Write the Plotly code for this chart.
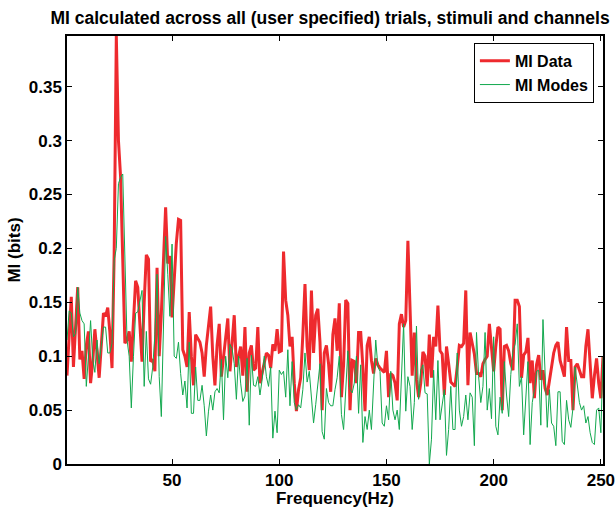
import plotly.graph_objects as go

# MI Data (red, thick) at frequencies 1..251 Hz
mi_data = [
    0.082, 0.12, 0.155, 0.09, 0.13, 0.164, 0.097, 0.105, 0.079, 0.11,
    0.123, 0.075, 0.095, 0.125, 0.103, 0.08, 0.11, 0.14, 0.137, 0.145,
    0.122, 0.089, 0.195, 0.397, 0.30, 0.266, 0.19, 0.112, 0.115, 0.123,
    0.095, 0.13, 0.17, 0.164, 0.127, 0.095, 0.15, 0.194, 0.19, 0.095,
    0.097, 0.086, 0.182, 0.1, 0.14, 0.19, 0.238, 0.186, 0.193, 0.136,
    0.17, 0.205, 0.227, 0.226, 0.106, 0.1, 0.09, 0.141, 0.1, 0.073,
    0.12, 0.116, 0.113, 0.103, 0.081, 0.11, 0.13, 0.146, 0.1, 0.073,
    0.11, 0.13, 0.081, 0.1, 0.12, 0.135, 0.086, 0.11, 0.138, 0.09,
    0.1, 0.109, 0.082, 0.127, 0.067, 0.103, 0.11, 0.087, 0.089, 0.127,
    0.075, 0.084, 0.095, 0.103, 0.101, 0.089, 0.111, 0.105, 0.125, 0.104,
    0.105, 0.197, 0.152, 0.138, 0.109, 0.118, 0.075, 0.049, 0.069, 0.08,
    0.12, 0.167, 0.109, 0.087, 0.161, 0.103, 0.138, 0.144, 0.113, 0.05,
    0.103, 0.11, 0.093, 0.067, 0.12, 0.135, 0.105, 0.149, 0.062, 0.092,
    0.152, 0.149, 0.05, 0.096, 0.095, 0.075, 0.122, 0.122, 0.09, 0.049,
    0.11, 0.118, 0.096, 0.084, 0.098, 0.092, 0.089, 0.087, 0.085, 0.105,
    0.062, 0.084, 0.082, 0.075, 0.059, 0.13, 0.139, 0.127, 0.133, 0.207,
    0.138, 0.082, 0.122, 0.078, 0.062, 0.075, 0.104, 0.1, 0.072, 0.12,
    0.08, 0.118, 0.109, 0.147, 0.105, 0.102, 0.064, 0.109, 0.093, 0.076,
    0.074, 0.072, 0.09, 0.11, 0.109, 0.112, 0.161, 0.073, 0.122, 0.11,
    0.102, 0.084, 0.084, 0.081, 0.093, 0.097, 0.1, 0.13, 0.11, 0.086,
    0.109, 0.127, 0.125, 0.05, 0.109, 0.11, 0.105, 0.093, 0.087, 0.152,
    0.152, 0.146, 0.08, 0.101, 0.104, 0.117, 0.075, 0.096, 0.061, 0.092,
    0.101, 0.078, 0.087, 0.07, 0.064, 0.078, 0.09, 0.103, 0.11, 0.113,
    0.096, 0.087, 0.081, 0.127, 0.096, 0.096, 0.05, 0.09, 0.093, 0.087,
    0.081, 0.081, 0.109, 0.125, 0.096, 0.061, 0.082, 0.098, 0.075, 0.061,
    0.1,
]

# MI Modes (green, thin)
mi_modes = [
    0.115, 0.142, 0.14, 0.118, 0.121, 0.164, 0.14, 0.133, 0.13, 0.072,
    0.1, 0.133, 0.097, 0.085, 0.115, 0.093, 0.11, 0.127, 0.127, 0.103,
    0.103, 0.112, 0.189, 0.2, 0.26, 0.266, 0.269, 0.176, 0.115, 0.1,
    0.052, 0.1, 0.14, 0.141, 0.15, 0.161, 0.072, 0.123, 0.079, 0.074,
    0.09, 0.12, 0.176, 0.081, 0.044, 0.137, 0.211, 0.176, 0.137, 0.204,
    0.1, 0.098, 0.113, 0.084, 0.064, 0.077, 0.052, 0.113, 0.047, 0.047,
    0.09, 0.059, 0.059, 0.073, 0.054, 0.026, 0.049, 0.064, 0.05, 0.067,
    0.07, 0.066, 0.097, 0.041, 0.1, 0.08, 0.111, 0.107, 0.093, 0.06,
    0.1, 0.075, 0.058, 0.063, 0.098, 0.036, 0.101, 0.073, 0.072, 0.081,
    0.064, 0.078, 0.1, 0.081, 0.072, 0.09, 0.024, 0.049, 0.029, 0.087,
    0.083, 0.086, 0.062, 0.106, 0.054, 0.095, 0.057, 0.05, 0.055, 0.052,
    0.069, 0.103, 0.076, 0.086, 0.057, 0.038, 0.055, 0.075, 0.093, 0.03,
    0.023, 0.07, 0.057, 0.054, 0.054, 0.069, 0.08, 0.1, 0.046, 0.032,
    0.076, 0.105, 0.069, 0.066, 0.075, 0.1, 0.047, 0.092, 0.02, 0.044,
    0.032, 0.05, 0.032, 0.069, 0.115, 0.09, 0.086, 0.038, 0.035, 0.054,
    0.041, 0.086, 0.05, 0.041, 0.05, 0.032, 0.081, 0.13, 0.049, 0.081,
    0.072, 0.032, 0.057, 0.128, 0.06, 0.087, 0.092, 0.066, 0.065, 0.0,
    0.023, 0.087, 0.041, 0.096, 0.041, 0.055, 0.069, 0.008, 0.032, 0.072,
    0.032, 0.032, 0.103, 0.05, 0.035, 0.044, 0.064, 0.041, 0.066, 0.062,
    0.017, 0.122, 0.081, 0.057, 0.072, 0.122, 0.05, 0.07, 0.042, 0.118,
    0.035, 0.027, 0.062, 0.047, 0.095, 0.064, 0.044, 0.083, 0.105, 0.111,
    0.13, 0.072, 0.081, 0.027, 0.062, 0.095, 0.018, 0.057, 0.069, 0.086,
    0.087, 0.036, 0.134, 0.08, 0.034, 0.069, 0.038, 0.035, 0.017, 0.067,
    0.067, 0.021, 0.018, 0.059, 0.041, 0.034, 0.052, 0.09, 0.072, 0.057,
    0.05, 0.054, 0.038, 0.044, 0.029, 0.02, 0.018, 0.05, 0.052, 0.029,
    0.1,
]

freqs = list(range(1, len(mi_data) + 1))

x_ticks = [50, 100, 150, 200, 250]
y_ticks = [0, 0.05, 0.1, 0.15, 0.2, 0.25, 0.3, 0.35]
y_tick_text = ["0", "0.05", "0.1", "0.15", "0.2", "0.25", "0.3", "0.35"]

FONT = "Liberation Sans, Arial, Helvetica, sans-serif"
FS = 17

fig = go.Figure()
fig.add_trace(go.Scatter(x=freqs, y=mi_data, mode="lines", name="MI Data",
                         line=dict(color="#ee2a2e", width=3)))
fig.add_trace(go.Scatter(x=freqs, y=mi_modes, mode="lines", name="MI Modes",
                         line=dict(color="#12a84e", width=1)))

axis_common = dict(showline=True, linecolor="black", linewidth=1.5, mirror="ticks",
                   ticks="inside", ticklen=5, tickcolor="black", tickwidth=1,
                   showgrid=False, zeroline=False, automargin=False,
                   tickfont=dict(family=FONT, size=FS, color="black", weight="bold"))

fig.update_layout(
    width=616, height=508,
    margin=dict(l=67, r=13, t=36, b=44),
    paper_bgcolor="white", plot_bgcolor="white",
    title=dict(text="MI calculated across all (user specified) trials, stimuli and channels",
               font=dict(family=FONT, size=17.5, color="black", weight="bold"),
               x=0.4907, xref="paper", xanchor="center",
               y=1 - 18 / 508, yref="container", yanchor="middle"),
    legend=dict(x=0.983, y=0.984, xanchor="right", yanchor="top",
                bgcolor="white", bordercolor="black", borderwidth=1,
                font=dict(family=FONT, size=16, color="black", weight="bold"),
                tracegroupgap=0, itemwidth=30),
    showlegend=True,
)
fig.update_xaxes(range=[1, 251], tickvals=x_ticks,
                 title=dict(text="Frequency(Hz)", standoff=0,
                            font=dict(family=FONT, size=FS, color="black", weight="bold")),
                 **axis_common)
fig.update_yaxes(range=[0, 0.397], tickvals=y_ticks, ticktext=y_tick_text,
                 title=dict(text="MI (bits)", standoff=4,
                            font=dict(family=FONT, size=FS, color="black", weight="bold")),
                 **axis_common)

fig.write_html("out.html")
